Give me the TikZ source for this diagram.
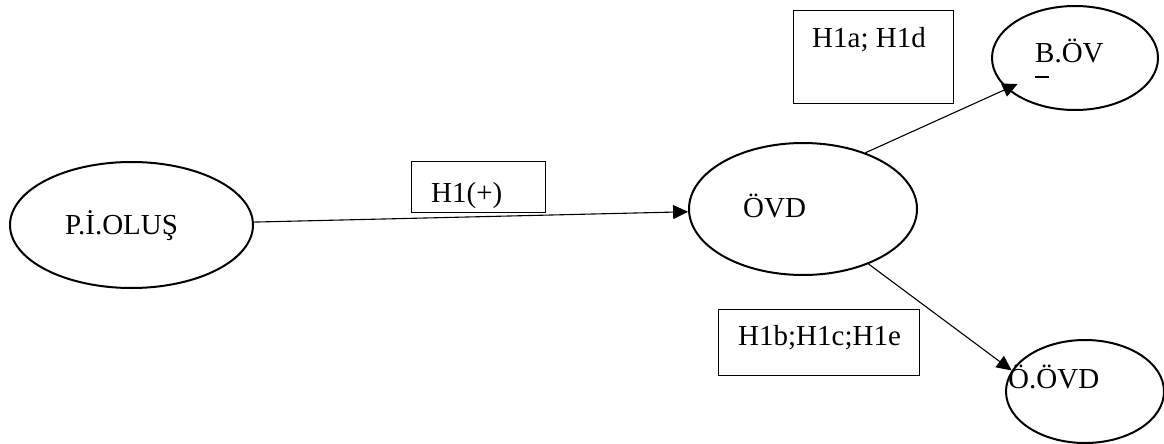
\documentclass[tikz,border=0pt]{standalone}
\usepackage{fontspec}
\setmainfont{Liberation Serif}
\usetikzlibrary{shapes.geometric,arrows.meta}
\begin{document}
\begin{tikzpicture}[x=1pt,y=-1pt,
  oval/.style={draw,ellipse,line width=2pt,inner sep=0pt},
  hbox/.style={draw,rectangle,line width=1pt,inner sep=0pt},
  lbl/.style={anchor=base west,inner sep=0pt,font=\fontsize{29}{33}\selectfont},
  conn/.style={line width=1.1pt,-{Triangle[length=15pt,width=14pt]}}]
\useasboundingbox (0,0) rectangle (1164,444);
% ellipses
\node[oval,minimum width=243pt,minimum height=126pt] (piolus) at (131.5,225) {};
\node[oval,minimum width=228pt,minimum height=132pt] (ovd) at (803,209) {};
\node[oval,minimum width=166pt,minimum height=104pt] (bov) at (1075,58) {};
\node[oval,minimum width=158pt,minimum height=103pt] (oovd) at (1085,391.5) {};
% boxes
\node[hbox,minimum width=134pt,minimum height=51pt] (b1) at (478,186.5) {};
\node[hbox,minimum width=160pt,minimum height=92pt] (b2) at (873,57) {};
\node[hbox,minimum width=201pt,minimum height=66pt] (b3) at (818.5,342) {};
% texts
\node[lbl] (tpiolus) at (65,234) {P.İ.OLUŞ};
\node[lbl] (tb1) at (431,202) {H1(+)};
\node[lbl] (tovd) at (743,217) {ÖVD};
\node[lbl] (tb2) at (812,48) {H1a; H1d};
\node[lbl] (tbov) at (1035,63) {B.ÖV};
\node[lbl] (tb3) at (738,345) {H1b;H1c;H1e};
\node[lbl] (toovd) at (1008,388) {Ö.ÖVD};
\draw[line width=1.5pt] (1035,77) -- (1049,77);
% connectors
\draw[conn] (piolus) -- (ovd);
\draw[conn,shorten >=-12pt] (ovd.42) -- (bov);
\draw[conn] (ovd.-40) -- (oovd.164);
\end{tikzpicture}
\end{document}
